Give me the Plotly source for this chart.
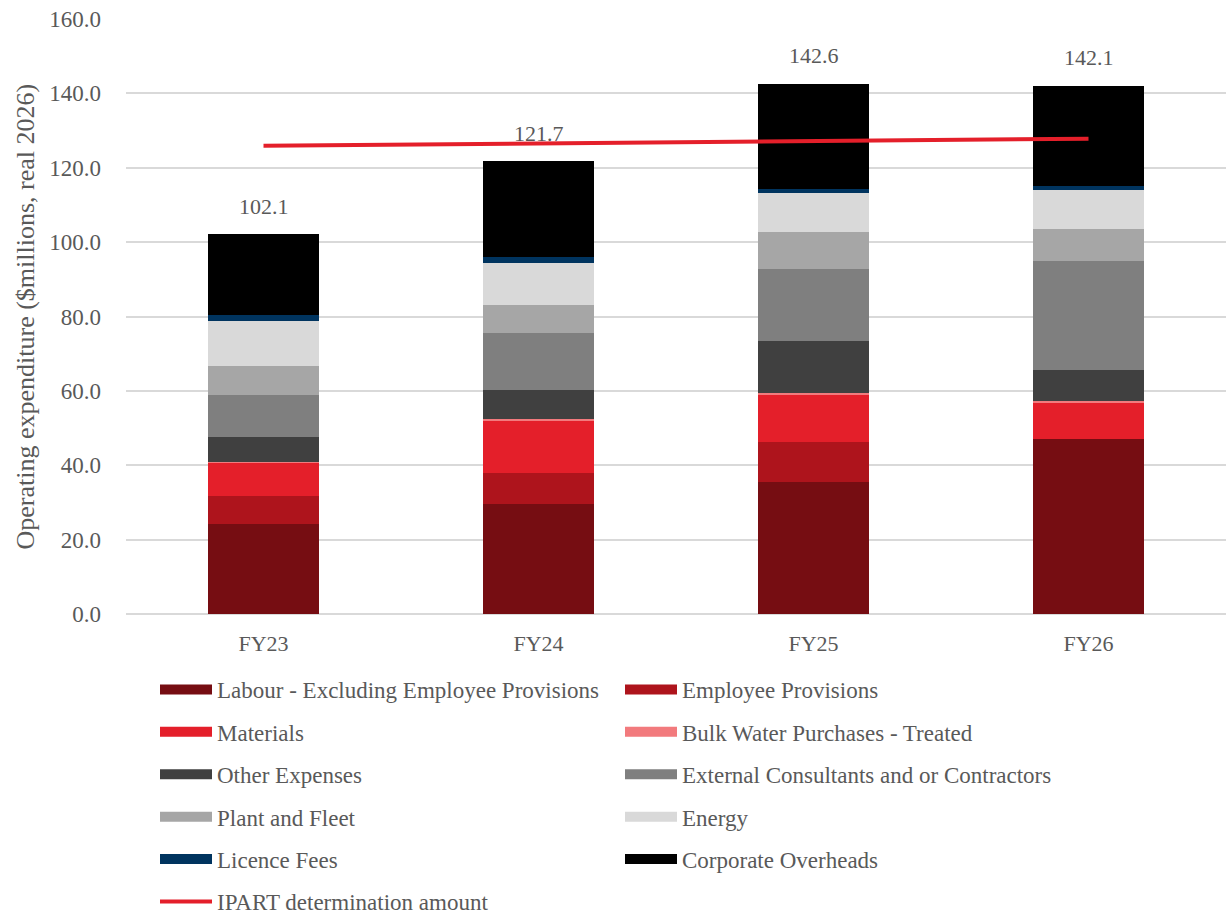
import plotly.graph_objects as go

# ---------------- data ----------------
years = ["FY23", "FY24", "FY25", "FY26"]

labour = [24.2, 29.7, 35.5, 47.1]
employee_prov = [7.4, 8.2, 10.7, 0.0]
materials = [9.1, 14.1, 12.7, 9.7]
bulk_water = [0.3, 0.4, 0.4, 0.4]
other_exp = [6.6, 7.9, 14.1, 8.3]
ext_consult = [11.4, 15.2, 19.4, 29.5]
plant_fleet = [7.6, 7.6, 9.9, 8.4]
energy = [12.3, 11.2, 10.4, 10.6]
licence = [1.4, 1.8, 1.3, 1.0]
corporate = [21.8, 25.6, 28.2, 27.1]

totals = [102.1, 121.7, 142.6, 142.1]
ipart = [125.9, 126.5, 127.1, 127.8]

y_title = "Operating expenditure ($millions, real 2026)"

series_names = [
    "Labour - Excluding Employee Provisions",
    "Employee Provisions",
    "Materials",
    "Bulk Water Purchases - Treated",
    "Other Expenses",
    "External Consultants and or Contractors",
    "Plant and Fleet",
    "Energy",
    "Licence Fees",
    "Corporate Overheads",
]
series_values = [labour, employee_prov, materials, bulk_water, other_exp,
                 ext_consult, plant_fleet, energy, licence, corporate]
series_colors = ["#760D12", "#AE141C", "#E41F2A", "#F27A7D", "#404040",
                 "#7F7F7F", "#A6A6A6", "#D9D9D9", "#00345F", "#000000"]
# legend column: left / right
series_legend = ["legend", "legend2", "legend", "legend2", "legend",
                 "legend2", "legend", "legend2", "legend", "legend2"]

FONT = "Liberation Serif"
TXT = "#595959"
FS = 22
LFS = 23

fig = go.Figure()

for name, vals, col in zip(series_names, series_values, series_colors):
    fig.add_trace(go.Bar(
        x=years, y=vals, name=name, marker=dict(color=col, line=dict(width=0)),
        legendgroup=name, showlegend=False,
    ))

# legend entries (wide swatches like the original); a single-point line draws nothing
for name, col, lg in zip(series_names, series_colors, series_legend):
    fig.add_trace(go.Scatter(
        x=[years[0]], y=[0], mode="lines", name=name,
        line=dict(color=col, width=10), legend=lg, legendgroup=name,
        showlegend=True, hoverinfo="skip",
    ))

fig.add_trace(go.Scatter(
    x=years, y=ipart, mode="lines", name="IPART determination amount",
    line=dict(color="#E41F2A", width=4), legend="legend",
    legendgroup="IPART",
))

for yr, tot in zip(years, totals):
    fig.add_annotation(x=yr, y=tot, text=f"{tot:.1f}", showarrow=False,
                       yanchor="middle", yshift=28,
                       font=dict(family=FONT, size=FS, color=TXT))

# y-axis title
fig.add_annotation(xref="paper", yref="paper", x=-0.0918, y=0.5,
                   text=y_title, textangle=-90, showarrow=False,
                   xanchor="center", yanchor="middle",
                   font=dict(family=FONT, size=26, color=TXT))

legend_common = dict(
    xref="container", yref="container", xanchor="left", yanchor="top",
    orientation="v", traceorder="grouped", tracegroupgap=9.5, itemwidth=52,
    font=dict(family=FONT, size=LFS, color=TXT), bgcolor="rgba(0,0,0,0)",
    borderwidth=0,
)

fig.update_layout(
    width=1226, height=917,
    margin=dict(l=126, r=0, t=19, b=303, autoexpand=False),
    barmode="stack", bargap=0.596,
    plot_bgcolor="white", paper_bgcolor="white",
    font=dict(family=FONT, size=FS, color=TXT),
    legend=dict(x=155 / 1226, y=1 - 668 / 917, **legend_common),
    legend2=dict(x=620 / 1226, y=1 - 668 / 917, **legend_common),
    xaxis=dict(
        type="category", showgrid=False, showline=False, ticks="",
        ticklabelstandoff=14, tickfont=dict(family=FONT, size=FS, color=TXT),
    ),
    yaxis=dict(
        range=[0, 160], dtick=20, tickformat=".1f",
        showgrid=True, gridcolor="#D9D9D9", gridwidth=1.5,
        zeroline=True, zerolinecolor="#D9D9D9", zerolinewidth=1.5,
        showline=False, ticks="", ticklabelstandoff=24,
        tickfont=dict(family=FONT, size=23, color=TXT),
    ),
)

fig.write_html("out.html")
